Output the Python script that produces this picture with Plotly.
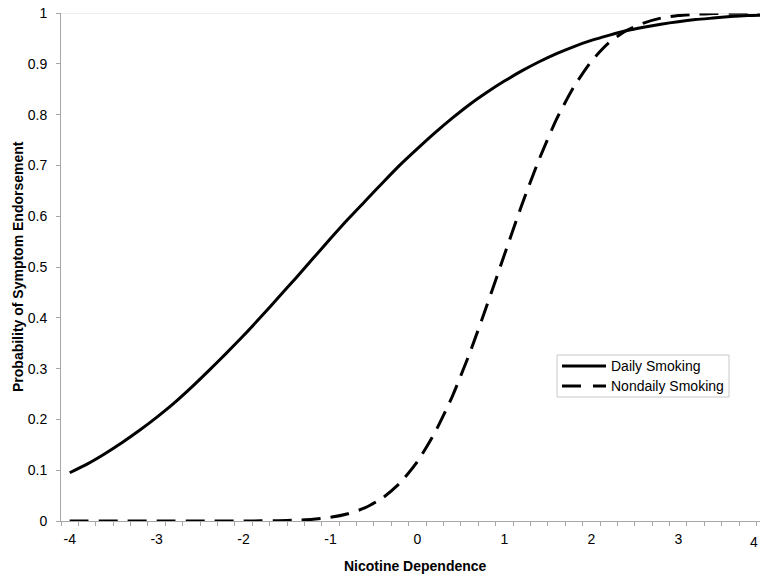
import plotly.graph_objects as go

x_vals = [round(-4 + 0.2 * i, 1) for i in range(41)]

daily = [0.095, 0.112, 0.132, 0.154, 0.178, 0.204, 0.232, 0.263, 0.296, 0.330,
         0.365, 0.402, 0.440, 0.478, 0.517, 0.556, 0.594, 0.630, 0.666, 0.701,
         0.733, 0.764, 0.793, 0.820, 0.844, 0.866, 0.886, 0.904, 0.920, 0.934,
         0.946, 0.956, 0.965, 0.972, 0.978, 0.983, 0.987, 0.990, 0.993, 0.995, 0.996]

nondaily = [0.0, 0.0, 0.0, 0.0, 0.0, 0.0, 0.0, 0.0, 0.0, 0.0,
            0.0001, 0.0003, 0.0007, 0.0016, 0.0036, 0.0073, 0.0143, 0.0262, 0.0455, 0.0749,
            0.117, 0.174, 0.245, 0.330, 0.425, 0.524, 0.622, 0.712, 0.791, 0.855,
            0.905, 0.941, 0.965, 0.980, 0.990, 0.995, 0.9975, 0.9989, 0.9995, 0.9998, 0.9999]

series_names = ["Daily Smoking", "Nondaily Smoking"]

x_ticks = [-4, -3, -2, -1, 0, 1, 2, 3, 4]
y_ticks = [0, 0.1, 0.2, 0.3, 0.4, 0.5, 0.6, 0.7, 0.8, 0.9, 1]
y_tick_text = ["0", "0.1", "0.2", "0.3", "0.4", "0.5", "0.6", "0.7", "0.8", "0.9", "1"]

FONT = "Liberation Sans, Arial, sans-serif"
FS = 14
W, H = 760, 581
ML, MR, MT, MB = 61, 0, 13, 60
PW, PH = W - ML - MR, H - MT - MB
XR = [-4.1, 3.94]


def px(xp):
    return (xp - ML) / PW


def py(yp):
    return (H - MB - yp) / PH


dashes = ["solid", "19px,10px"]

fig = go.Figure()
for name, vals, dash in zip(series_names, [daily, nondaily], dashes):
    fig.add_trace(go.Scatter(x=x_vals, y=vals, mode="lines", name=name, showlegend=False,
                             line=dict(color="black", width=3, dash=dash,
                                       shape="spline", smoothing=0.6)))

fig.update_layout(
    width=W, height=H,
    margin=dict(l=ML, r=MR, t=MT, b=MB),
    paper_bgcolor="white", plot_bgcolor="white",
    font=dict(family=FONT, size=FS, color="black"),
    showlegend=False,
    xaxis=dict(range=XR, showgrid=False, zeroline=False,
               showline=True, linecolor="#a6a6a6", linewidth=1,
               tickmode="array", tickvals=x_ticks, ticktext=[str(v) for v in x_ticks],
               ticks="", ticklen=0, ticklabelstandoff=5,
               minor=dict(tick0=-4.1, dtick=0.2, ticks="outside", ticklen=4,
                          tickcolor="#a6a6a6", showgrid=False),
               tickfont=dict(family=FONT, size=FS, color="black")),
    yaxis=dict(range=[0, 1], showgrid=False, zeroline=False,
               showline=True, linecolor="#a6a6a6", linewidth=1,
               tickmode="array", tickvals=y_ticks, ticktext=y_tick_text,
               ticks="outside", ticklen=4, tickcolor="#a6a6a6", ticklabelstandoff=6,
               tickfont=dict(family=FONT, size=FS, color="black")),
)

fig.add_shape(type="line", xref="paper", yref="y", x0=0, x1=1, y0=1, y1=1,
              line=dict(color="#d9d9d9", width=1))

# x tick label "4" sits at the right edge of the picture
fig.add_annotation(text=str(x_ticks[-1]), xref="paper", yref="paper", x=1.0, y=py(542),
                   xanchor="right", yanchor="middle", showarrow=False,
                   font=dict(family=FONT, size=FS, color="black"))

# legend (drawn manually to match the box geometry)
fig.add_shape(type="rect", xref="paper", yref="paper",
              x0=px(557), x1=px(729), y0=py(355), y1=py(397),
              line=dict(color="#c8c8c8", width=1), fillcolor="white", layer="above")
leg_y = [366, 386]
for name, dash, ly in zip(series_names, dashes, leg_y):
    fig.add_shape(type="line", xref="paper", yref="paper",
                  x0=px(562), x1=px(606), y0=py(ly), y1=py(ly), layer="above",
                  line=dict(color="black", width=3, dash="solid" if dash == "solid" else "19px,12px"))
    fig.add_annotation(text=name, xref="paper", yref="paper", x=px(609), y=py(ly),
                       xanchor="left", yanchor="middle", showarrow=False,
                       font=dict(family=FONT, size=FS, color="black"))

fig.add_annotation(text="<b>Nicotine Dependence</b>", xref="paper", yref="paper",
                   x=px(415), y=py(566), xanchor="center", yanchor="middle", showarrow=False,
                   font=dict(family=FONT, size=FS, color="black"))
fig.add_annotation(text="<b>Probability of Symptom Endorsement</b>", xref="paper", yref="paper",
                   x=px(18), y=0.5, xanchor="center", yanchor="middle", showarrow=False,
                   textangle=-90, font=dict(family=FONT, size=FS, color="black"))

fig.write_html("out.html")
